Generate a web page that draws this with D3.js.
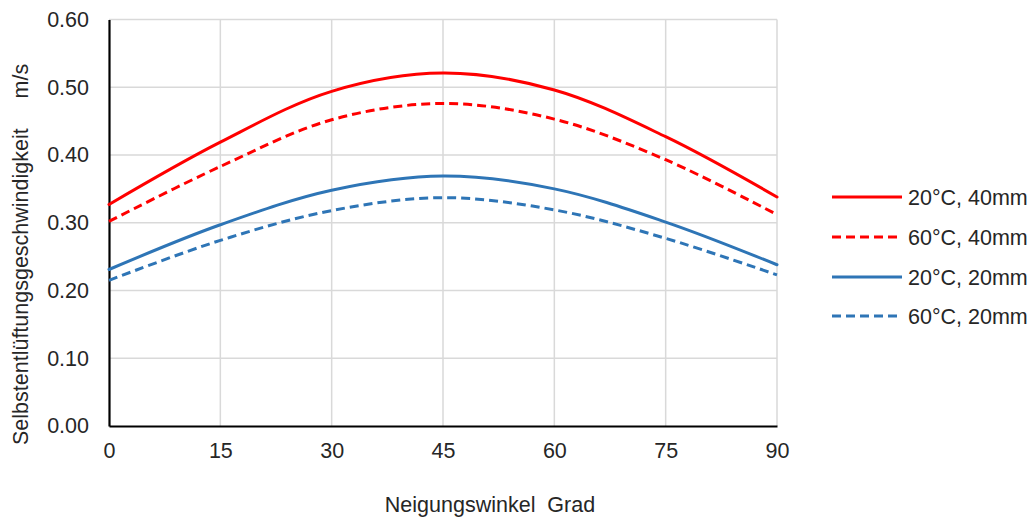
<!DOCTYPE html>
<html>
<head>
<meta charset="utf-8">
<script src="https://cdn.jsdelivr.net/npm/d3@7"></script>
<style>
  html, body { margin: 0; padding: 0; background: #fff; }
  svg { display: block; font-family: "Liberation Sans", Arial, sans-serif; }
</style>
</head>
<body>
<svg id="chart" width="1029" height="517"></svg>
<script>
// Data
const angles = [0, 15, 30, 45, 60, 75, 90];
const s20_40 = [0.327, 0.419, 0.494, 0.521, 0.496, 0.427, 0.338];
const s60_40 = [0.302, 0.383, 0.452, 0.476, 0.453, 0.393, 0.312];
const s20_20 = [0.231, 0.297, 0.348, 0.369, 0.350, 0.301, 0.238];
const s60_20 = [0.215, 0.274, 0.318, 0.337, 0.319, 0.277, 0.223];
const seriesNames = ["20°C, 40mm", "60°C, 40mm", "20°C, 20mm", "60°C, 20mm"];
const xTicks = [0, 15, 30, 45, 60, 75, 90];
const yTicks = [0, 0.1, 0.2, 0.3, 0.4, 0.5, 0.6];
const xTitle = "Neigungswinkel  Grad";
const yTitle = "Selbstentlüftungsgeschwindigkeit     m/s";

const series = [
  { name: seriesNames[0], values: s20_40, color: "#FF0000", dash: null },
  { name: seriesNames[1], values: s60_40, color: "#FF0000", dash: "9,5" },
  { name: seriesNames[2], values: s20_20, color: "#2E75B6", dash: null },
  { name: seriesNames[3], values: s60_20, color: "#2E75B6", dash: "9,5" }
];

const FS = 21.5;
const TXT = "#262626";
const svg = d3.select("#chart");
const pL = 109, pR = 777, pT = 19.5, pB = 426;
const x = d3.scaleLinear().domain([0, 90]).range([pL, pR]);
const y = d3.scaleLinear().domain([0, 0.6]).range([pB, pT]);

// Gridlines
const grid = svg.append("g");
grid.selectAll("line.h").data(yTicks.filter(d => d > 0)).join("line")
  .attr("x1", pL).attr("x2", pR)
  .attr("y1", d => y(d)).attr("y2", d => y(d))
  .attr("stroke", "#d9d9d9").attr("stroke-width", 1.5);
grid.selectAll("line.v").data(xTicks.filter(d => d > 0)).join("line")
  .attr("x1", d => x(d)).attr("x2", d => x(d))
  .attr("y1", pT).attr("y2", pB)
  .attr("stroke", "#d9d9d9").attr("stroke-width", 1.5);

// Axes
const yAxis = d3.axisLeft(y).tickValues(yTicks).tickFormat(d3.format(".2f")).tickSize(0).tickPadding(20);
const gy = svg.append("g").attr("transform", `translate(${pL},0)`).call(yAxis);
gy.select(".domain").attr("stroke", "#000").attr("stroke-width", 2.2);
gy.selectAll("text").attr("font-size", FS).attr("fill", TXT).attr("font-family", "Liberation Sans, Arial, sans-serif");

const xAxis = d3.axisBottom(x).tickValues(xTicks).tickSize(0).tickPadding(17);
const gx = svg.append("g").attr("transform", `translate(0,${pB})`).call(xAxis);
gx.select(".domain").attr("stroke", "#000").attr("stroke-width", 2.2);
gx.selectAll("text").attr("font-size", FS).attr("fill", TXT).attr("font-family", "Liberation Sans, Arial, sans-serif");

// Lines
const line = d3.line().x((d, i) => x(angles[i])).y(d => y(d)).curve(d3.curveCatmullRom.alpha(0.5));
svg.append("g").selectAll("path").data(series).join("path")
  .attr("d", d => line(d.values))
  .attr("fill", "none")
  .attr("stroke", d => d.color)
  .attr("stroke-width", 3)
  .attr("stroke-dasharray", d => d.dash)
  .attr("stroke-linecap", d => d.dash ? "butt" : "round");

// Axis titles
svg.append("text").attr("x", 490).attr("y", 512)
  .attr("text-anchor", "middle").attr("font-size", FS).attr("fill", TXT)
  .style("white-space", "pre").text(xTitle);
svg.append("text").attr("transform", "translate(28,445) rotate(-90)")
  .attr("text-anchor", "start").attr("font-size", FS).attr("fill", TXT)
  .style("white-space", "pre").text(yTitle);

// Legend
const leg = svg.append("g");
const legY = [197, 237, 277, 316];
series.forEach((s, i) => {
  leg.append("line").attr("x1", 832).attr("x2", 902).attr("y1", legY[i]).attr("y2", legY[i])
    .attr("stroke", s.color).attr("stroke-width", 3).attr("stroke-dasharray", s.dash);
  leg.append("text").attr("x", 908).attr("y", legY[i]).attr("dy", "0.35em")
    .attr("font-size", FS).attr("fill", TXT).text(s.name);
});
</script>
</body>
</html>
